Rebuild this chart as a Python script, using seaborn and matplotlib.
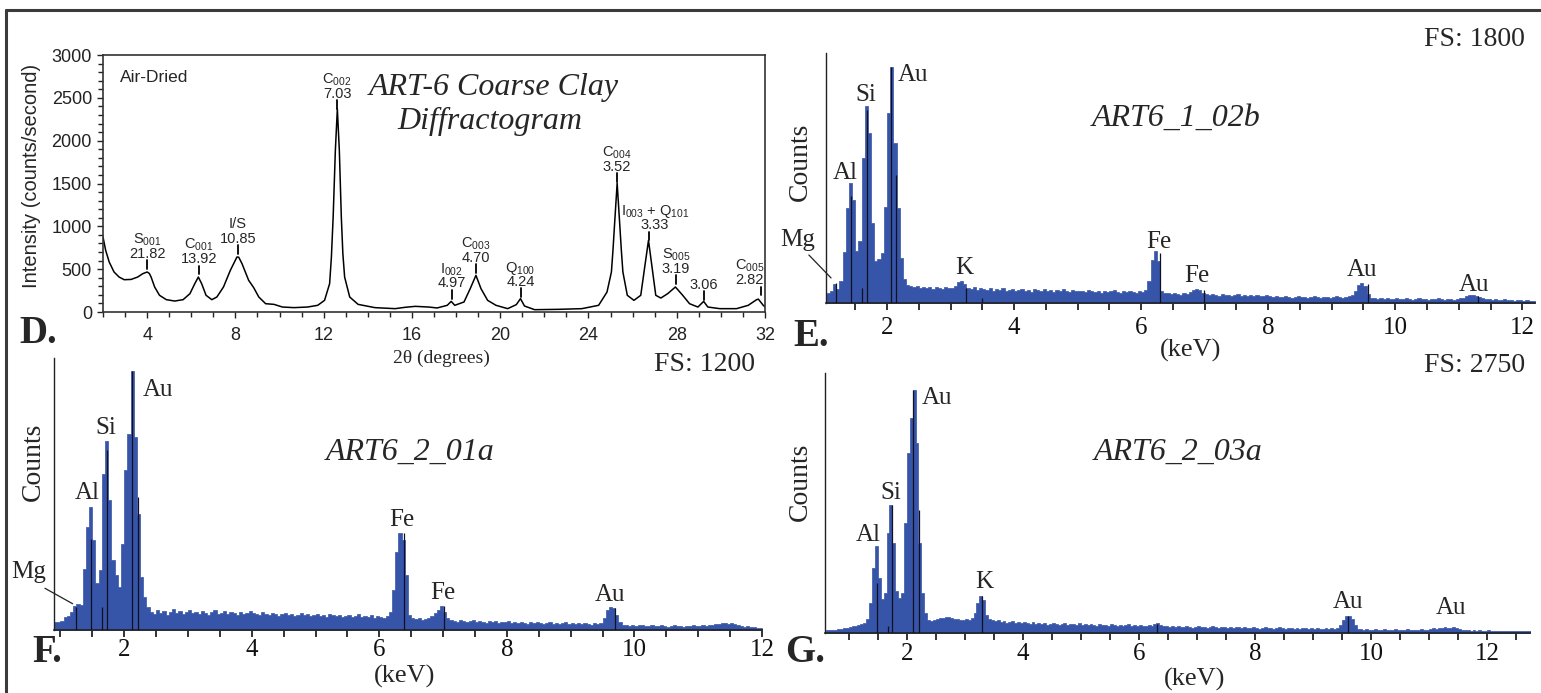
import numpy as np
import matplotlib
matplotlib.use("Agg")
import matplotlib.pyplot as plt
from matplotlib.ticker import MultipleLocator
from matplotlib.lines import Line2D
import seaborn as sns

# ---------------- D: XRD diffractogram ----------------
xrd_2theta = [2.00, 2.12, 2.28, 2.50, 2.73, 2.96, 3.27, 3.57, 3.80, 4.00, 4.10, 4.18, 4.34, 4.56, 4.87,
              5.25, 5.63, 5.94, 6.16, 6.32, 6.47, 6.67, 6.93, 7.16, 7.46, 7.77, 8.07, 8.15, 8.30, 8.60,
              8.83, 9.06, 9.37, 9.75, 10.13, 10.66, 11.27, 11.73, 12.04, 12.27, 12.35, 12.43, 12.53, 12.62,
              12.71, 12.80, 12.87, 12.95, 13.18, 13.56, 14.32, 15.24, 15.70, 16.15, 16.76, 17.14, 17.60,
              17.78, 17.94, 18.36, 18.64, 18.90, 19.13, 19.43, 19.81, 20.34, 20.73, 20.92, 21.10, 21.56,
              22.63, 23.70, 24.46, 24.84, 25.04, 25.11, 25.18, 25.30, 25.42, 25.49, 25.56, 25.76, 26.06,
              26.37, 26.56, 26.72, 26.87, 27.05, 27.28, 27.59, 27.94, 28.27, 28.58, 28.96, 29.22, 29.41,
              29.95, 30.71, 31.24, 31.62, 31.70, 31.92, 32.00]
xrd_intensity = [875, 720, 584, 467, 408, 377, 380, 408, 447, 467, 450, 408, 292, 195, 144,
                 128, 144, 214, 331, 408, 331, 195, 144, 175, 292, 486, 642, 640, 564, 370,
                 284, 175, 97, 89, 58, 51, 58, 78, 136, 331, 640, 1109, 1887, 2370,
                 1887, 1109, 680, 408, 175, 89, 51, 39, 55, 66, 58, 47, 78,
                 124, 78, 117, 272, 428, 272, 136, 78, 39, 86, 156, 70, 27,
                 31, 39, 78, 233, 467, 720, 1011, 1505, 1011, 720, 467, 195, 136,
                 195, 545, 836, 545, 195, 163, 214, 292, 195, 97, 58, 124, 58,
                 39, 39, 78, 144, 150, 78, 60]

xrd_peak_names = ["S$_{001}$", "C$_{001}$", "I/S", "C$_{002}$", "I$_{002}$", "C$_{003}$", "Q$_{100}$",
                  "C$_{004}$", "I$_{003}$ + Q$_{101}$", "S$_{005}$", "", "C$_{005}$"]
xrd_peak_d = ["21.82", "13.92", "10.85", "7.03", "4.97", "4.70", "4.24", "3.52", "3.33", "3.19", "3.06", "2.82"]
xrd_peak_2theta = [4.0, 6.35, 8.12, 12.61, 17.8, 18.9, 20.92, 25.3, 26.75, 27.97, 29.22, 31.82]
xrd_peak_mark_y = [506, 440, 681, 2373, 156, 459, 175, 1517, 836, 331, 144, 195]
xrd_label_2theta = [4.0, 6.35, 8.12, 12.61, 17.8, 18.9, 20.92, 25.3, 27.02, 27.97, 29.22, 31.3]

# ---------------- EDS spectra (0.05 keV channels) ----------------
BIN_KEV = 0.05

e_start = 1.00
e_counts = [65, 72, 86, 137, 101, 158, 367, 684, 864, 742, 374, 446, 1044, 1418, 1224, 576, 302, 317, 360, 691,
            1368, 1699, 1152, 684, 324, 173,
            130, 122, 115, 122, 108, 115, 108, 115, 101, 115, 108, 101, 115, 108, 108, 122,
            151, 158, 137, 108,
            101, 115, 94, 108, 101, 94, 108, 86, 101, 94, 108, 86, 94, 101, 86,
            94, 101, 86, 94, 79, 101, 94, 86, 101, 86, 94, 79, 94, 86, 101, 86, 79, 94, 86, 86,
            86, 79, 94, 86, 79, 86, 72, 86, 79, 86, 94, 79, 72, 86, 79, 86, 79, 72, 86, 79, 94,
            158, 310, 374, 302, 86, 72,
            72, 65, 72, 65, 58, 72, 65, 79,
            94, 101, 94, 72,
            65, 58, 65, 58, 50, 65, 58, 58, 50, 58, 65, 50, 58, 50, 58, 50, 58, 50, 50, 58, 50,
            43, 50, 43, 43, 50, 43, 36, 43, 50, 43, 43, 36, 43, 50, 43, 36, 43, 43, 36, 43, 50, 43, 36, 43, 50,
            58, 86, 130, 144, 122, 65,
            36, 36, 29, 36, 29, 36, 29, 29, 36, 29, 29, 36, 29, 22, 29, 36, 29, 29, 22, 29, 29, 36, 29, 22, 29,
            29, 22, 29, 36, 36,
            50, 58, 58, 50, 43, 36,
            29, 29, 22, 29, 22, 22, 29, 22, 22, 14, 22, 22, 14, 22, 14, 14]

f_start = 0.90
f_counts = [35, 35, 40, 57, 62, 79, 106, 115, 110, 269, 454, 542, 397, 207, 265, 688, 833, 573, 309, 243,
            190, 379, 706, 864, 1142, 851, 512, 234, 146, 101,
            79, 71, 88, 75, 84, 66, 79, 93, 75, 84, 71, 79, 88, 75, 79, 71, 84, 75, 66, 79, 88, 71, 75, 84,
            71, 79, 75, 66, 79, 71, 75, 84,
            75, 71, 66, 79, 71, 66, 75, 71, 62, 71, 75, 66, 71, 62, 66, 75, 66, 71, 62, 66, 71, 62, 66, 57,
            71, 66, 62, 66, 57, 62, 66, 57, 62, 71, 57, 62, 57, 66, 53, 62, 57, 53, 62,
            79, 176, 344, 428, 397, 243, 66,
            53, 49, 53, 44, 49, 53,
            62, 75, 88, 106, 79, 53,
            44, 40, 35, 44, 40, 35, 40, 44, 35, 40, 35, 31, 40, 35, 40, 31, 35, 35, 40, 31, 35, 31, 35, 31,
            26, 35, 31, 35, 31, 26, 31, 35, 26, 31, 26, 31, 35, 26, 31, 26, 31, 26, 31, 26, 22, 31, 26, 31,
            53, 88, 101, 97, 66, 35,
            22, 22, 18, 22, 18, 22, 22, 18, 18, 22, 18, 18, 22, 18, 13, 18, 22, 18, 18, 13, 18, 18, 22, 18,
            18, 22, 18, 22, 22, 26,
            26, 31, 31, 26, 31, 26, 22,
            18, 13, 18, 13, 13, 9, 9]

g_start = 0.60
g_counts = [29, 30, 32, 32, 42, 42, 53, 53, 63, 69, 74, 85, 95, 106,
            148, 317, 688, 920, 582, 360, 423, 1058, 1354, 952, 444, 370, 423, 1164, 1904, 2275, 2571, 2010,
            952, 423, 212, 138,
            127, 138, 148, 159, 159, 169, 169, 159, 148, 148, 138, 138, 148, 138, 159,
            212, 317, 391, 349, 190,
            148, 138, 127, 138, 116, 127, 106, 116, 127, 106, 116, 106, 116,
            106, 95, 116, 95, 106, 95, 106, 85, 95, 106, 95, 85, 95, 106, 85, 95, 95, 85, 106, 85, 95, 85,
            95, 85, 74, 95, 85, 85, 74, 95, 85, 74, 85, 74, 85, 95, 74, 85, 74, 85, 74, 74, 85, 74,
            95, 106, 85, 74,
            74, 63, 74, 63, 74, 63, 63, 74, 63, 53, 63, 74, 63, 63, 53, 63, 74, 63, 53, 63,
            63, 53, 63, 53, 63, 63, 53, 63, 53, 53, 63, 53, 42, 53, 63, 53, 53, 42, 53, 63,
            53, 42, 53, 53, 42, 53, 42, 53, 53, 42, 53, 42, 53, 42, 42, 53, 42, 53, 42, 53,
            85, 138, 180, 180, 148, 85,
            42, 42, 32, 42, 32, 32, 42, 32, 32, 42, 32, 32, 32, 42, 32, 32, 32, 42, 32, 32, 32, 32, 42, 32,
            32, 42,
            53, 42, 53, 53, 63, 53, 53, 63, 53, 42,
            32, 32, 32, 21, 32, 21, 32, 21, 21, 32, 21, 21, 21, 21, 21, 21, 21, 21, 21, 16, 21, 16, 16, 16]

# element line markers (keV, counts)
e_lines_kev = [1.20, 1.44, 1.61, 1.69, 2.06, 2.14, 3.24, 3.50, 6.29, 6.99, 9.57, 11.30]
e_lines_cnt = [144, 770, 108, 1390, 1700, 920, 108, 36, 360, 94, 140, 50]
f_lines_kev = [1.24, 1.48, 1.66, 1.73, 2.12, 2.22, 6.38, 7.02, 9.70]
f_lines_cnt = [101, 400, 101, 794, 1142, 587, 428, 106, 97]
g_lines_kev = [1.49, 1.67, 1.74, 2.11, 2.21, 3.29, 6.32, 9.60]
g_lines_cnt = [529, 74, 1354, 2571, 1301, 391, 95, 180]

# element labels
e_elem = ["Mg", "Al", "Si", "Au", "K", "Fe", "Fe", "Au", "Au"]
e_elem_kev = [0.60, 1.34, 1.67, 2.41, 3.21, 6.28, 6.87, 9.48, 11.24]
e_elem_cnt = [454, 936, 1498, 1642, 252, 439, 194, 238, 130]
f_elem = ["Mg", "Al", "Si", "Au", "Fe", "Fe", "Au"]
f_elem_kev = [0.50, 1.42, 1.72, 2.53, 6.36, 7.00, 9.61]
f_elem_cnt = [256, 604, 891, 1058, 485, 163, 154]
g_elem = ["Al", "Si", "Au", "K", "Au", "Au"]
g_elem_kev = [1.34, 1.72, 2.52, 3.33, 9.60, 11.38]
g_elem_cnt = [1037, 1481, 2486, 540, 328, 265]

# ---------------- figure ----------------
W, H, DPI = 1541, 693, 100
BLUE = "#3654A8"
sns.set_style("ticks")
plt.rcParams["font.family"] = ["Liberation Serif", "DejaVu Serif"]
plt.rcParams["mathtext.default"] = "regular"

fig = plt.figure(figsize=(W / DPI, H / DPI), dpi=DPI)
fig.patch.set_facecolor("white")


def px_axes(l, t, r, b):
    return fig.add_axes([l / W, 1 - b / H, (r - l) / W, (b - t) / H])


def ftext(x, y, s, **kw):
    kw.setdefault("ha", "center")
    kw.setdefault("va", "center")
    return fig.text(x / W, 1 - y / H, s, **kw)


SANS = ["Liberation Sans", "DejaVu Sans"]

# ----- panel D -----
axD = px_axes(103, 55, 765, 312)
sns.lineplot(x=xrd_2theta, y=xrd_intensity, ax=axD, color="black", linewidth=1.1,
             estimator=None, sort=False)
axD.set_xlim(2, 32)
axD.set_ylim(0, 3000)
axD.set_xticks(range(4, 33, 4))
axD.set_yticks(range(0, 3001, 500))
axD.xaxis.set_minor_locator(MultipleLocator(1))
axD.yaxis.set_minor_locator(MultipleLocator(100))
axD.tick_params(which="both", direction="out", width=1, colors="#222222", labelsize=13)
axD.tick_params(which="major", length=4.5)
axD.tick_params(which="minor", length=3.5)
axD.tick_params(axis="x", pad=6.5)
axD.tick_params(axis="y", pad=3.5)
for lab in axD.get_xticklabels() + axD.get_yticklabels():
    lab.set_family(SANS)
for sp in axD.spines.values():
    sp.set_color("#333333")
    sp.set_linewidth(1.2)
axD.set_xlabel("")
axD.set_ylabel("")

TICK_LEN = 100
for name, d, xp, yp, xl in zip(xrd_peak_names, xrd_peak_d, xrd_peak_2theta, xrd_peak_mark_y, xrd_label_2theta):
    axD.plot([xp, xp], [yp, yp + TICK_LEN], color="black", lw=1.3)
    axD.text(xl, yp + TICK_LEN + 30, d, ha="center", va="baseline", fontsize=10.5, family=SANS)
    if name:
        axD.text(xl, yp + TICK_LEN + 195, name, ha="center", va="baseline", fontsize=10.5, family=SANS)

ftext(120, 77, "Air-Dried", ha="left", fontsize=12.5, family=SANS)
ftext(494, 87, "ART-6 Coarse Clay", fontsize=23, style="italic")
ftext(490, 121, "Diffractogram", fontsize=23, style="italic")
ftext(32, 176, "Intensity (counts/second)", rotation=90, fontsize=14.5, family=SANS)
ftext(441, 358, "2\u03b8 (degrees)", fontsize=14)
ftext(38, 333, "D.", fontsize=28, weight="bold")


# ----- EDS panels -----
def eds_panel(box, start, counts, xlim, fs, lines_kev, lines_cnt, elem, elem_kev, elem_cnt, pad):
    ax = px_axes(*box)
    n = len(counts)
    centers = start + BIN_KEV * (np.arange(n) + 0.5)
    sns.histplot(x=centers, weights=np.asarray(counts, dtype=float), binwidth=BIN_KEV,
                 binrange=(start, start + n * BIN_KEV), common_bins=False,
                 element="step", fill=True, color=BLUE, alpha=1.0, linewidth=0.5, ax=ax)
    ax.vlines(lines_kev, 0, lines_cnt, color="#101020", lw=0.9, zorder=3)
    ax.set_xlim(*xlim)
    ax.set_ylim(0, fs)
    ax.set_yticks([])
    ax.set_ylabel("")
    ax.set_xlabel("")
    ax.set_xticks(range(2, 13, 2))
    ax.xaxis.set_minor_locator(MultipleLocator(0.5))
    ax.tick_params(axis="x", which="both", direction="out", width=1.2, length=5,
                   colors="#111111", labelsize=18, pad=pad, bottom=True)
    sns.despine(ax=ax)
    ax.spines["left"].set_color("#222222")
    ax.spines["left"].set_linewidth(1.0)
    ax.spines["bottom"].set_color("#222222")
    ax.spines["bottom"].set_linewidth(1.2)
    for s, x, y in zip(elem, elem_kev, elem_cnt):
        ax.text(x, y, s, ha="center", va="center", fontsize=18, clip_on=False)
    return ax


axE = eds_panel((826, 53, 1535, 303), e_start, e_counts, (1.04, 12.2), 1800,
                e_lines_kev, e_lines_cnt, e_elem, e_elem_kev, e_elem_cnt, pad=5)
axE.annotate("", xy=(1.15, 166), xytext=(0.74, 360),
             arrowprops=dict(arrowstyle="-", color="#222222", lw=0.9), annotation_clip=False)
ftext(1525, 40, "FS: 1800", ha="right", fontsize=20)
ftext(1176, 118, "ART6_1_02b", fontsize=23, style="italic")
ftext(800, 162, "Counts", rotation=90, fontsize=20)
ftext(1191, 350, "(keV)", fontsize=19)
ftext(811, 336, "E.", fontsize=28, weight="bold")

axF = eds_panel((54, 358, 762, 630), f_start, f_counts, (0.9, 12.0), 1200,
                f_lines_kev, f_lines_cnt, f_elem, f_elem_kev, f_elem_cnt, pad=1.5)
axF.annotate("", xy=(1.23, 110), xytext=(0.72, 190),
             arrowprops=dict(arrowstyle="-", color="#222222", lw=0.9), annotation_clip=False)
ftext(755, 364, "FS: 1200", ha="right", fontsize=20)
ftext(410, 452, "ART6_2_01a", fontsize=23, style="italic")
ftext(33, 462, "Counts", rotation=90, fontsize=20)
ftext(405, 676, "(keV)", fontsize=19)
ftext(47, 653, "F.", fontsize=28, weight="bold")

axG = eds_panel((825, 373, 1530, 633), g_start, g_counts, (0.59, 12.74), 2750,
                g_lines_kev, g_lines_cnt, g_elem, g_elem_kev, g_elem_cnt, pad=2.5)
ftext(1525, 365, "FS: 2750", ha="right", fontsize=20)
ftext(1178, 452, "ART6_2_03a", fontsize=23, style="italic")
ftext(800, 482, "Counts", rotation=90, fontsize=20)
ftext(1195, 679, "(keV)", fontsize=19)
ftext(805, 653, "G.", fontsize=28, weight="bold")

# outer frame (top and left edges)
fig.add_artist(Line2D([6 / W, 1.0], [1 - 10 / H, 1 - 10 / H], transform=fig.transFigure,
                      color="#3a3a3a", lw=2.2))
fig.add_artist(Line2D([6 / W, 6 / W], [0.0, 1 - 10 / H], transform=fig.transFigure,
                      color="#3a3a3a", lw=2.2))

fig.savefig("out.png", dpi=DPI, facecolor="white")
